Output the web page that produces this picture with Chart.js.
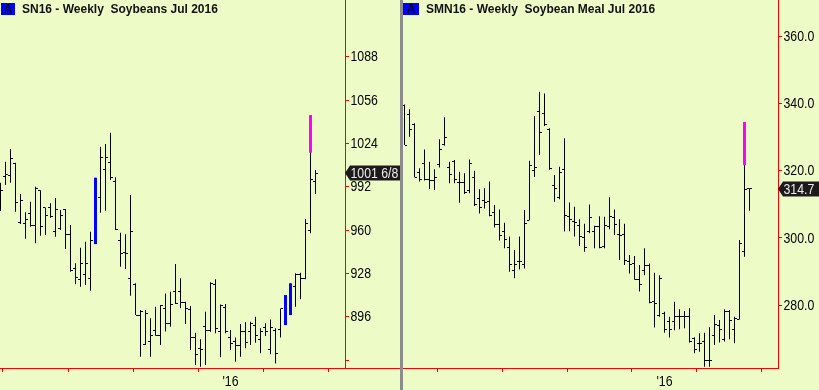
<!DOCTYPE html>
<html>
<head>
<meta charset="utf-8">
<script src="https://cdn.jsdelivr.net/npm/chart.js@4.4.0/dist/chart.umd.min.js"></script>
<style>
  html, body { margin: 0; padding: 0; }
  body { width: 819px; height: 390px; background: #edfcc6; position: relative; overflow: hidden; }
  canvas { position: absolute; top: 0; }
  #snChart { left: 0; }
  #smChart { left: 403px; }
  .divider { position: absolute; left: 400px; top: 0; width: 3px; height: 390px; background: #8c8c8c; }
  .tag { position: absolute; top: 3px; height: 12px; background: #0000ff; color: #000; font: bold 12px 'Liberation Sans', Arial, sans-serif; line-height: 13px; text-align: center; }
  .ttl { position: absolute; top: 3px; font: bold 12px 'Liberation Sans', Arial, sans-serif; line-height: 12px; white-space: pre; color: #111; }
</style>
</head>
<body>
<canvas id="snChart" width="400" height="390"></canvas>
<div class="divider"></div>
<canvas id="smChart" width="416" height="390"></canvas>
<div class="tag" style="left:1px;width:14px">A</div>
<div class="ttl" style="left:22px">SN16 - Weekly  Soybeans Jul 2016</div>
<div class="tag" style="left:403px;width:16px">A</div>
<div class="ttl" style="left:426px">SMN16 - Weekly  Soybean Meal Jul 2016</div>
<script>
// weekly bars, week 0 = first bar of the meal chart, week 52 = first week of 2016
const quarterWeeks = [13, 26, 39, 52, 65]
const yearWeek = 52
const yearLabel = "'16"

// SN16 soybeans (cents), starts at week 6
const snFirstWeek = 6
const snOpen = [980, 999.5, 1000.6, 1009.3, 965.4, 964.9, 972.3, 963, 989, 976.5,
    976.8, 958.8, 961.2, 975.3, 957, 931.7, 923.6, 927, 924.3, 950,
    984.2, 1004.8, 1009.7, 996.2, 952.4, 943.2, 924.3, 920.1, 897, 875.8,
    878, 886.1, 882.4, 902.2, 891.1, 914.4, 914.4, 906.6, 901.4, 880.7,
    872.6, 888.6, 886.1, 919.5, 885.4, 903, 880.7, 878, 875, 884.9,
    884.9, 889.3, 878.8, 888, 871.4, 886.1, 886.6, 890, 898, 918.6,
    927.5, 924.3, 960, 996.2]
const snHigh = [995, 1010.4, 1019.8, 1009.7, 986.6, 973.1, 980.9, 992, 989.3, 976.7,
    979.7, 983.6, 974.8, 975.5, 963.7, 935.4, 946.9, 951.4, 958.8, 998.6,
    1021.5, 1023.5, 1031.9, 998.9, 958, 956.8, 985.8, 920.6, 900.9, 900.9,
    894.8, 903.3, 904.6, 913.2, 914.4, 934.9, 924.3, 907, 903.9, 884.2,
    879.3, 899.6, 921.4, 923.6, 905, 905.3, 886.1, 880.7, 890.6, 891.8,
    892.3, 896, 887.4, 891.1, 894, 887.4, 902.1, 912, 920.6, 928,
    928.4, 968.1, 1044.9, 1004.3]
const snLow = [974, 993.2, 995, 973.5, 964.4, 953.6, 962.5, 950.2, 955.8, 956.3,
    969.1, 955, 960, 946, 929.2, 919.9, 918.1, 919.4, 915.2, 949.6,
    972.8, 974.3, 996.9, 960, 932.9, 931.2, 911.5, 897.2, 866.4, 875.1,
    866.4, 881.9, 875.1, 885, 888.6, 905.3, 902.2, 890.6, 871.4, 860.3,
    859, 860.3, 884.9, 883.7, 866, 883.7, 871.4, 862.7, 866.4, 872.6,
    875.1, 876.8, 869, 881.7, 868.2, 861.5, 880.7, 889.8, 897.2, 903.3,
    908.8, 923.6, 957.6, 986.6]
const snClose = [989, 1001, 1013, 980, 982.1, 968, 963, 990.3, 962.4, 971,
    969.8, 974.8, 970.9, 957, 930.4, 924.8, 935.4, 935, 952.6, 996,
    1013.4, 1013.4, 998.9, 960.5, 942.8, 942.8, 959.2, 897.2, 899.6, 898.5,
    882.4, 882.4, 903.9, 891.1, 905.3, 905.8, 906.6, 902.2, 880.7, 868.2,
    872.1, 886.1, 920.6, 887, 904.6, 884.9, 876.3, 875, 884.9, 876.8,
    890.6, 882.4, 885, 884.9, 888.1, 869, 902.1, 911, 920, 926.8,
    924.3, 964.9, 997, 1001.75]
const snBlueWeeks = [25, 63, 64]
const snPinkWeek = 68
const snPinkFrom = 1017.1
const snTicks = [864, 896, 928, 960, 992, 1024, 1056, 1088]
const snLast = '1001 6/8'

// SMN16 soybean meal ($/ton), starts at week 0
const smFirstWeek = 0
const smOpen = [339.5, 336.9, 333.7, 319.5, 322.3, 317.5, 317, 322, 327.9, 321,
    322.9, 316.5, 316.5, 314, 318, 311.8, 311.3, 311, 307.7, 304,
    302, 297, 290.4, 293, 292.2, 305.3, 320, 337.8, 337.2, 332.2,
    315.5, 312, 320.5, 306.3, 305, 303.6, 300.2, 301.9, 302, 303.4,
    297.5, 303.4, 306.2, 300.9, 300.9, 293, 292.4, 287.7, 290.4, 291.9,
    281, 277, 277.5, 275, 275, 276.7, 276.5, 276.7, 270.1, 268.4,
    269, 263.6, 271, 274, 269.6, 278, 272.6, 275.7, 296, 314.8]
const smHigh = [339.8, 338.4, 334.2, 320.8, 326.4, 322.7, 320.5, 329.4, 336, 322.7,
    323.2, 319.7, 319.3, 323.4, 320, 314.5, 314.8, 316.8, 309.8, 308.5,
    304.5, 300.4, 296.4, 300.4, 308.3, 323, 336.3, 343.6, 343.1, 332.7,
    318.8, 321.2, 329.7, 310.6, 309.3, 305.6, 304.2, 310, 303.6, 306.5,
    306.3, 312.1, 308.5, 305.6, 304.2, 294.9, 294.6, 291.9, 296.9, 292.4,
    289.6, 288.9, 278, 276.5, 281, 278.7, 278.2, 279, 270.4, 271.6,
    271.7, 273.4, 277, 275.5, 278.7, 278.5, 276.5, 299.4, 334.6, 314.8]
const smLow = [327.7, 330.2, 318.1, 316.8, 317.1, 314.6, 314.3, 321, 327.5, 316.3,
    316.3, 310.5, 313.1, 313.3, 309.5, 307.3, 308.8, 306.5, 303.1, 299.2,
    296.9, 289.9, 288, 290.6, 290.9, 305.3, 318.2, 324.7, 333.4, 320.3,
    310.8, 311.5, 301.9, 302, 300.4, 297.6, 295.9, 301.4, 296.9, 296.9,
    296.9, 302.6, 300.9, 293.4, 291.9, 289.4, 287.5, 284, 288.9, 280.5,
    273.3, 276.5, 271.7, 270.3, 272.5, 272.8, 273.1, 268.8, 265.6, 266.1,
    261.6, 261.6, 268.1, 268.8, 269.1, 269.8, 268.6, 275.7, 294.4, 308.1]
const smClose = [327.7, 332.4, 318.1, 317.5, 317.3, 317, 318, 326.4, 330, 318.8,
    317.5, 316.5, 313.6, 322.2, 310, 309.1, 310.5, 306.8, 304, 300.8,
    299.5, 292, 292.2, 292.9, 304.4, 321.5, 321, 331.4, 333.9, 320.8,
    314.8, 319.4, 306.8, 305.6, 304.5, 300.4, 297, 306, 303.4, 297.2,
    303.6, 306.3, 303.9, 300.6, 293.4, 292.2, 287.7, 286, 291.9, 280.7,
    280.5, 288, 272.7, 272.7, 276.5, 276.7, 276.7, 269, 266.6, 268.4,
    263.6, 263.6, 274.3, 272.8, 278, 275.5, 276, 298.4, 314.5, 314.7]
const smBlueWeeks = []
const smPinkWeek = 68
const smPinkFrom = 321.7
const smTicks = [280, 300, 320, 340, 360]
const smLast = '314.7'

// the price axis uses a narrow face; squeeze Liberation Sans to match
const labelFont = '15px "Liberation Sans", Arial, sans-serif'
const squeezeText = (ctx, text, x, y, align) => {
    ctx.font = labelFont
    ctx.textAlign = align
    ctx.fillText(text, x, y, ctx.measureText(text).width * 0.82)
}

// open tick left, close tick right, as on a plain bar chart
const ohlcTicks = (s) => ({
    id: 'ohlcTicks',
    afterDatasetsDraw: (chart) => {
        const {ctx, chartArea, scales: {x, y}} = chart
        ctx.save()
        ctx.beginPath()
        ctx.rect(chartArea.left, chartArea.top, chartArea.width, chartArea.height)
        ctx.clip()
        ctx.fillStyle = '#000'
        s.open.forEach((o, k) => {
            const week = s.firstWeek + k
            if (s.blueWeeks.includes(week)) return
            const px = Math.floor(x.getPixelForValue(week))
            ctx.fillRect(px - 2, Math.round(y.getPixelForValue(o) - 0.5), 2, 1)
            ctx.fillRect(px + 1, Math.round(y.getPixelForValue(s.close[k]) - 0.5), 2, 1)
        })
        ctx.restore()
    }
})

const axisText = (s) => ({
    id: 'axisText',
    afterDraw: (chart) => {
        const {ctx, chartArea, scales: {x, y}} = chart
        const x0 = chartArea.right
        const x1 = chart.width
        ctx.save()
        ctx.textBaseline = 'middle'
        // bottom rule runs on under the price axis
        if (s.ruleToEdge) {
            ctx.fillStyle = '#ff0000'
            ctx.fillRect(x0, chartArea.bottom, x1 - x0, 1)
        }
        ctx.fillStyle = '#000'
        s.ticks.forEach(v => {
            const text = s.tickText(v)
            if (text) squeezeText(ctx, text, x0 + 5.5, y.getPixelForValue(v) + 0.5, 'left')
        })
        squeezeText(ctx, yearLabel, x.getPixelForValue(yearWeek), chartArea.bottom + 14, 'center')

        // last price tag
        const ly = Math.round(y.getPixelForValue(s.close[s.close.length - 1]))
        ctx.fillStyle = '#1b1b1b'
        ctx.beginPath()
        ctx.moveTo(x0, ly)
        ctx.lineTo(x0 + 5, ly - 7.5)
        ctx.lineTo(x1, ly - 7.5)
        ctx.lineTo(x1, ly + 7.5)
        ctx.lineTo(x0 + 5, ly + 7.5)
        ctx.closePath()
        ctx.fill()
        ctx.fillStyle = '#ececec'
        squeezeText(ctx, s.label, x0 + 5.5, ly + 1, 'left')
        ctx.restore()
    }
})

const buildPanel = (canvasId, s) => {
    const weeks = s.high.map((h, k) => s.firstWeek + k)
    const hl = weeks.map((w, k) => ({ x: w, y: [s.low[k], s.high[k]] }))
    const blue = s.blueWeeks.map(w => ({ x: w, y: [s.low[w - s.firstWeek], s.high[w - s.firstWeek]] }))
    const pink = [{ x: s.pinkWeek, y: [s.pinkFrom, s.high[s.pinkWeek - s.firstWeek]] }]
    const barStyle = (color, width) => ({
        backgroundColor: color,
        barThickness: width,
        maxBarThickness: width,
        grouped: false,
        inflateAmount: 0,
        borderWidth: 0
    })

    return new Chart(document.getElementById(canvasId), {
        type: 'bar',
        data: {
            datasets: [
                { data: pink, ...barStyle('#ff00ff', 3) },
                { data: blue, ...barStyle('#0000ff', 3) },
                { data: hl, ...barStyle('#000000', 1) }
            ]
        },
        options: {
            responsive: false,
            animation: false,
            events: [],
            layout: { padding: 0 },
            plugins: {
                legend: { display: false },
                tooltip: { enabled: false }
            },
            scales: {
                x: {
                    type: 'linear',
                    offset: false,
                    min: s.xMin,
                    max: s.xMax,
                    afterBuildTicks: (axis) => { axis.ticks = quarterWeeks.map(v => ({ value: v })) },
                    afterFit: (axis) => { axis.height = 22; axis.paddingLeft = 0; axis.paddingRight = 0 },
                    ticks: { display: false },
                    grid: { drawOnChartArea: false, color: '#ff0000', tickLength: 4 },
                    border: { color: '#ff0000' }
                },
                y: {
                    position: 'right',
                    min: s.yMin,
                    max: s.yMax,
                    afterBuildTicks: (axis) => { axis.ticks = s.ticks.map(v => ({ value: v })) },
                    afterFit: (axis) => { axis.width = s.axisWidth; axis.paddingTop = 0; axis.paddingBottom = 0 },
                    ticks: { display: false },
                    grid: { drawOnChartArea: false, color: '#ff0000', tickLength: 4 },
                    border: { color: '#ff0000' }
                }
            }
        },
        plugins: [ohlcTicks(s), axisText(s)]
    })
}

buildPanel('snChart', {
    firstWeek: snFirstWeek, open: snOpen, high: snHigh, low: snLow, close: snClose,
    blueWeeks: snBlueWeeks, pinkWeek: snPinkWeek, pinkFrom: snPinkFrom,
    ticks: snTicks, tickText: (v) => v === snTicks[0] ? '' : String(v),
    label: snLast, ruleToEdge: true,
    xMin: 5.9, xMax: 74.9, yMin: 858.1, yMax: 1129.88, axisWidth: 55
})

buildPanel('smChart', {
    firstWeek: smFirstWeek, open: smOpen, high: smHigh, low: smLow, close: smClose,
    blueWeeks: smBlueWeeks, pinkWeek: smPinkWeek, pinkFrom: smPinkFrom,
    ticks: smTicks, tickText: (v) => v.toFixed(1),
    label: smLast, ruleToEdge: false,
    xMin: -0.3, xMax: 74.7, yMin: 261.22, yMax: 370.94, axisWidth: 41
})
</script>
</body>
</html>
